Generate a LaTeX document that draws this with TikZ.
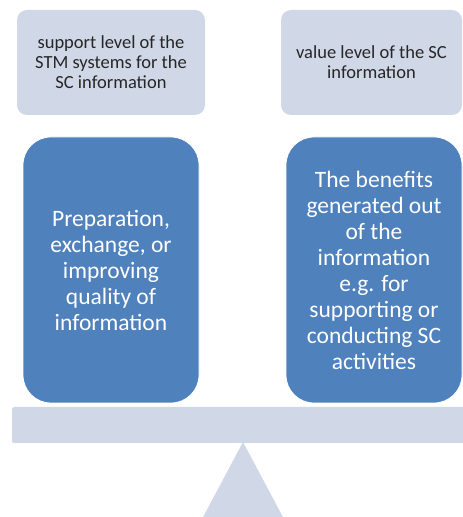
\documentclass[tikz,border=0pt]{standalone}
\usepackage{fontspec}
\setmainfont{Carlito}
\definecolor{beamgray}{RGB}{208,216,232}
\definecolor{panblue}{RGB}{79,129,189}
\begin{document}
\begin{tikzpicture}[x=1pt,y=1pt,
    levelbox/.style={fill=beamgray, rounded corners=10pt, minimum width=#1,
                     minimum height=105pt, inner sep=0pt, align=center,
                     text=black!85, font=\fontsize{18.5}{20}\selectfont},
    panbox/.style={fill=panblue, draw=white, line width=0.8pt, rounded corners=28pt,
                   minimum width=176pt, minimum height=266pt, inner sep=0pt,
                   align=center, text=white, font=\fontsize{23.5}{26}\selectfont}]
  \useasboundingbox (0,0) rectangle (463,517);
  % level labels
  \node[levelbox=188pt] (supp) at (111,454.5) {support level of the\\STM systems for the\\SC information};
  \node[levelbox=181pt] (valu) at (371.5,454.5) {value level of the SC\\information};
  % scale pans
  \node[panbox] (prep) at (111,247) {Preparation,\\exchange, or\\improving\\quality of\\information};
  \node[panbox] (bene) at (374,247) {The benefits\\generated out\\of the\\information\\e.g. for\\supporting or\\conducting SC\\activities};
  % beam and pivot
  \node[fill=beamgray, rounded corners=2pt, minimum width=460pt, minimum height=36pt,
        inner sep=0pt] (beam) at (242,92) {};
  \coordinate (pivot) at (243,75);
  \fill[beamgray] (pivot) -- (202,-2) -- (284,-2) -- cycle;
\end{tikzpicture}
\end{document}
